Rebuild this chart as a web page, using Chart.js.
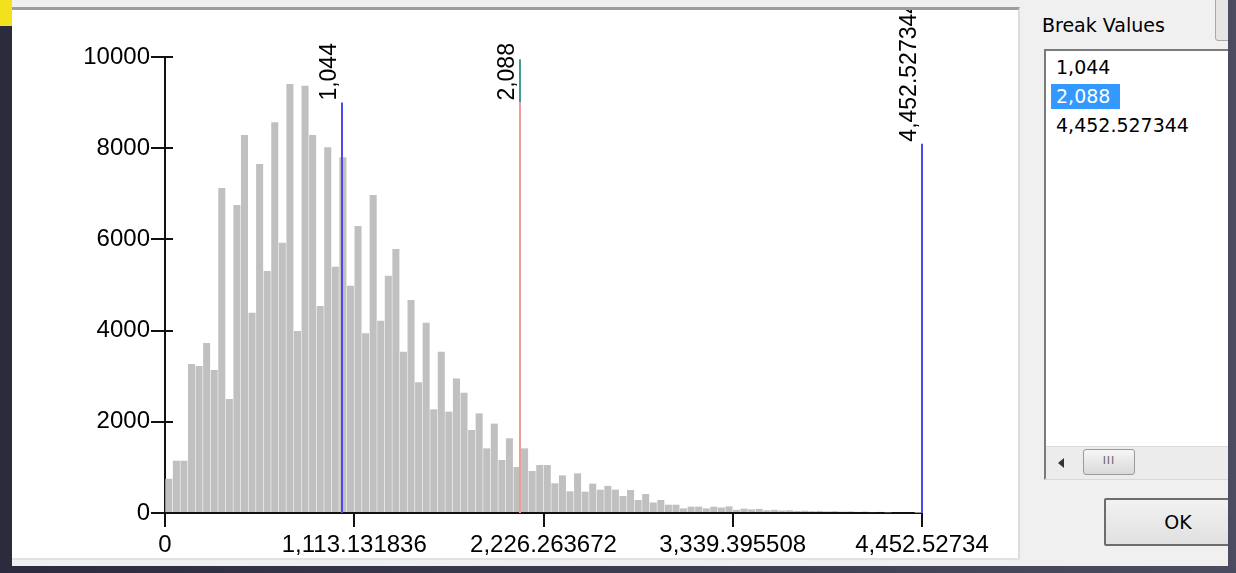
<!DOCTYPE html>
<html>
<head>
<meta charset="utf-8">
<script src="https://cdn.jsdelivr.net/npm/chart.js@4.4.0/dist/chart.umd.min.js"></script>
<style>
  html, body { margin: 0; padding: 0; }
  body {
    width: 1236px; height: 573px; position: relative; overflow: hidden;
    background: linear-gradient(90deg, #2b2b3d, #4c4c60);
    font-family: "DejaVu Sans", sans-serif;
  }
  #yellow { position: absolute; left: 0; top: 0; width: 12px; height: 26px; background: #f2e11c; }
  #dlg { position: absolute; left: 12px; top: 0; width: 1216px; height: 566px; background: #f0f0f0; overflow: hidden; }
  #panel {
    position: absolute; left: 0; top: 7px; width: 1008px; height: 553px; box-sizing: border-box;
    background: #fff; border-top: 3px solid #9d9d9d; border-right: 2px solid #dcdcdc; border-bottom: 2px solid #e2e2e2;
  }
  #hist { position: absolute; left: 12px; top: 10px; }
  #bvLabel { position: absolute; left: 1030px; top: 13px; font-size: 19px; line-height: 24px; color: #000; }
  #topBtn { position: absolute; left: 1203px; top: -3px; width: 30px; height: 44px; box-sizing: border-box;
    background: #e4e4e4; border: 1px solid #a8a8a8; border-radius: 3px; }
  #list { position: absolute; left: 1032px; top: 49px; width: 200px; height: 431px; box-sizing: border-box;
    background: #fff; border-left: 2px solid #7a7a7a; border-top: 2px solid #7a7a7a; border-bottom: 2px solid #d8d8d8; }
  .item { position: absolute; left: 10px; font-size: 19px; line-height: 25px; color: #000; white-space: nowrap; }
  .item.sel { left: 5px; width: 69px; padding-left: 5px; box-sizing: border-box; background: #3399ff; color: #fff; }
  #hscroll { position: absolute; left: 0; top: 395px; width: 200px; height: 32px; background: #ececec; border-top: 1px solid #dcdcdc; }
  #arrow { position: absolute; left: 12px; top: 11px; width: 0; height: 0;
    border-top: 5px solid transparent; border-bottom: 5px solid transparent; border-right: 6px solid #333; }
  #thumb { position: absolute; left: 37px; top: 2px; width: 52px; height: 26px; box-sizing: border-box;
    background: linear-gradient(#f6f6f6, #d9d9d9); border: 1px solid #9a9a9a; border-radius: 3px;
    font-size: 11px; line-height: 22px; text-align: center; color: #666; letter-spacing: 1px; }
  #okBtn { position: absolute; left: 1092px; top: 498px; width: 148px; height: 48px; box-sizing: border-box;
    background: linear-gradient(#f2f2f2, #e0e0e0); border: 2px solid #6c6c6c; border-radius: 2px;
    font-size: 19px; line-height: 44px; text-align: center; color: #000; }
</style>
</head>
<body>
<div id="yellow"></div>
<div id="dlg">
  <div id="panel"></div>
  <div id="bvLabel">Break Values</div>
  <div id="topBtn"></div>
  <div id="list">
    <div class="item" style="top:4px">1,044</div>
    <div class="item sel" style="top:33px">2,088</div>
    <div class="item" style="top:62px">4,452.527344</div>
    <div id="hscroll"><div id="arrow"></div><div id="thumb">III</div></div>
  </div>
  <div id="okBtn">OK</div>
</div>
<canvas id="hist" width="1005" height="548"></canvas>

<script>
// histogram: 100 bins between 0 and the max value
const maxValue = 4452.527344;
const binCount = 100;
const counts = [
  750, 1147, 1147, 3267, 3224, 3728, 3136, 7127, 2500, 6754,
  8290, 4393, 7654, 5307, 8568, 5928, 9408, 3991, 9371, 8290,
  4540, 8019, 5402, 7800, 4985, 6294, 3940, 6974, 4217, 5204,
  5789, 3538, 4671, 2866, 4170, 2274, 3538, 2222, 2950, 2638,
  1820, 2186, 1418, 1960, 1162, 1638, 1010, 1418, 921, 1053,
  1053, 651, 825, 475, 870, 468, 645, 510, 595, 512,
  373, 504, 285, 417, 230, 285, 182, 182, 102, 139,
  139, 102, 139, 120, 145, 70, 95, 80, 90, 60,
  70, 55, 60, 45, 50, 40, 45, 35, 40, 30,
  35, 25, 30, 20, 25, 15, 0, 0, 0, 5
];

const xTickValues = [0, 1113.131836, 2226.263672, 3339.395508, 4452.527344];
const xTickLabels = ["0", "1,113.131836", "2,226.263672", "3,339.395508", "4,452.52734"];
const yTickValues = [0, 2000, 4000, 6000, 8000, 10000];
const yTickLabels = ["0", "2000", "4000", "6000", "8000", "10000"];

// class breaks
const breakValues = [1044, 2088, 4452.527344];
const breakLabels = ["1,044", "2,088", "4,452.527344"];
const breakTops   = [9000, 9000, 8100];
const selectedBreak = 1;
const handleTop = 9950;

const binWidth = maxValue / binCount;
const barData = counts.map((c, i) => ({ x: (i + 0.5) * binWidth, y: c }));

Chart.defaults.font.family = "'Liberation Sans', Arial, sans-serif";
Chart.defaults.color = "#000";

const breaksPlugin = {
  id: "breaks",
  afterDatasetsDraw(chart) {
    const { ctx, scales: { x, y } } = chart;
    const base = y.getPixelForValue(0);
    ctx.save();

    // y ticks poke a little into the plot
    ctx.strokeStyle = "#111";
    ctx.lineWidth = 2;
    yTickValues.forEach(v => {
      const py = Math.round(y.getPixelForValue(v));
      ctx.beginPath();
      ctx.moveTo(x.left, py);
      ctx.lineTo(x.left + 8, py);
      ctx.stroke();
    });

    breakValues.forEach((v, i) => {
      const px = Math.round(x.getPixelForValue(v));
      const top = y.getPixelForValue(breakTops[i]);
      ctx.lineWidth = 2;
      if (i === selectedBreak) {
        ctx.strokeStyle = "#3f9f97";
        ctx.beginPath();
        ctx.moveTo(px, y.getPixelForValue(handleTop));
        ctx.lineTo(px, top);
        ctx.stroke();
        ctx.strokeStyle = "#f29a9a";
      } else {
        ctx.strokeStyle = "#4a4af2";
      }
      ctx.beginPath();
      ctx.moveTo(px, top);
      ctx.lineTo(px, base);
      ctx.stroke();

      // vertical label
      ctx.save();
      ctx.translate(px - 6, top - 2);
      ctx.rotate(-Math.PI / 2);
      ctx.font = "23px 'Liberation Sans', Arial, sans-serif";
      ctx.fillStyle = "#000";
      ctx.textAlign = "left";
      ctx.textBaseline = "alphabetic";
      ctx.fillText(breakLabels[i], 0, 0);
      ctx.restore();
    });
    ctx.restore();
  }
};

new Chart(document.getElementById("hist"), {
  type: "bar",
  data: {
    datasets: [{
      data: barData,
      backgroundColor: "#c0c0c0",
      borderWidth: 0,
      barPercentage: 0.93,
      categoryPercentage: 1
    }]
  },
  options: {
    responsive: false,
    animation: false,
    devicePixelRatio: 1,
    layout: { padding: { top: 47, right: 95, left: 0, bottom: 0 } },
    plugins: { legend: { display: false }, tooltip: { enabled: false } },
    scales: {
      x: {
        type: "linear",
        min: 0,
        max: maxValue,
        offset: false,
        grid: { offset: false, drawOnChartArea: false, tickLength: 14, color: "#111", lineWidth: 2 },
        border: { color: "#111", width: 2 },
        afterBuildTicks: s => { s.ticks = xTickValues.map(v => ({ value: v })); },
        afterFit: s => { s.height = 45; },
        ticks: {
          autoSkip: false, maxRotation: 0, minRotation: 0, padding: 4,
          font: { size: 24 },
          callback: (v, i) => xTickLabels[i]
        }
      },
      y: {
        min: 0,
        max: 10000,
        grid: { drawOnChartArea: false, tickLength: 14, color: "#111", lineWidth: 2 },
        border: { color: "#111", width: 2 },
        afterBuildTicks: s => { s.ticks = yTickValues.map(v => ({ value: v })); },
        afterFit: s => { s.width = 153; },
        ticks: {
          padding: 1,
          font: { size: 24 },
          callback: (v, i) => yTickLabels[i]
        }
      }
    }
  },
  plugins: [breaksPlugin]
});
</script>
</body>
</html>
